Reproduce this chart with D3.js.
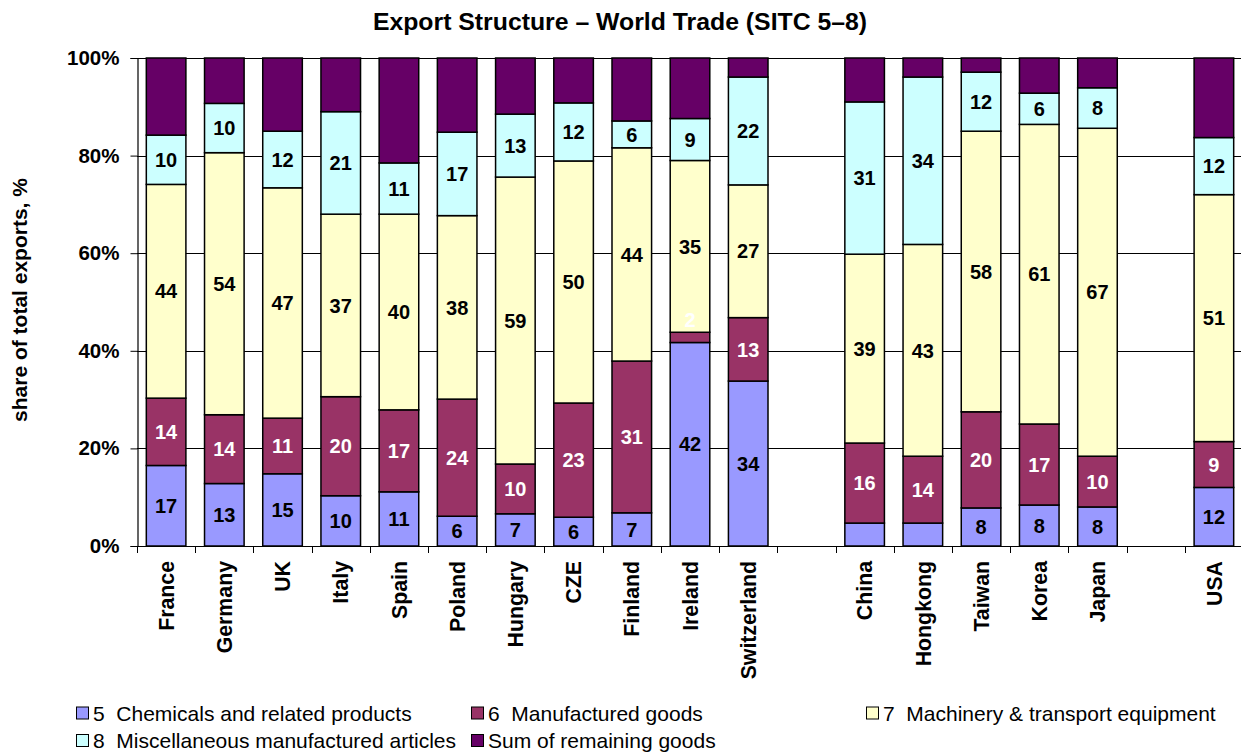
<!DOCTYPE html>
<html><head><meta charset="utf-8">
<script src="https://cdn.jsdelivr.net/npm/d3@7"></script>
<style>body{margin:0;background:#fff}svg{display:block}</style>
</head><body>
<svg id="c" width="1241" height="753"></svg>
<script>
const slots = ["France","Germany","UK","Italy","Spain","Poland","Hungary","CZE","Finland","Ireland","Switzerland","gap1","China","Hongkong","Taiwan","Korea","Japan","gap2","USA"];
const categories = ["France","Germany","UK","Italy","Spain","Poland","Hungary","CZE","Finland","Ireland","Switzerland","China","Hongkong","Taiwan","Korea","Japan","USA"];
const chemicals    = [16.5,12.8,14.8,10.3,11.1, 6.1, 6.6, 5.9, 6.8,41.7,33.8, 4.7, 4.7, 7.8, 8.4, 8.0,12.0];
const manufactured = [13.8,14.1,11.4,20.3,16.8,24.0,10.2,23.4,31.1, 2.1,13.0,16.4,13.7,19.7,16.6,10.4, 9.4];
const machinery    = [43.8,53.7,47.2,37.4,40.1,37.6,58.8,49.6,43.7,35.2,27.2,38.7,43.4,57.5,61.4,67.2,50.6];
const misc         = [10.1,10.1,11.6,21.0,10.5,17.1,12.9,11.9, 5.5, 8.6,22.1,31.2,34.3,12.1, 6.4, 8.3,11.7];
const remaining    = [15.8, 9.3,15.0,11.0,21.5,15.2,11.5, 9.2,12.9,12.4, 3.9, 9.0, 3.9, 2.9, 7.2, 6.1,16.3];
const seriesNames = ["5  Chemicals and related products","6  Manufactured goods","7  Machinery & transport equipment","8  Miscellaneous manufactured articles","Sum of remaining goods"];
const seriesColors = ["#9999FF","#993366","#FFFFCC","#CCFFFF","#660066"];
const labelColors = ["#000","#fff","#000","#000",null];
const hiddenLabels = ["China|0","Hongkong|0"];
const yTicks = [0,20,40,60,80,100];
const chartTitle = "Export Structure \u2013 World Trade (SITC 5\u20138)";
const yTitle = "share of total exports, %";

(function(){
const seriesData = [chemicals, manufactured, machinery, misc, remaining];
const svg = d3.select("#c");
const font = "'Liberation Sans', Arial, sans-serif";
const pL = 137, pR = 1243, pT = 58, pB = 546;

const x = d3.scaleBand().domain(slots).range([pL, pR]).paddingInner(0.32).paddingOuter(0.16);
const y = d3.scaleLinear().domain([0,100]).range([pB, pT]);
const step = x.step();

svg.append("g").selectAll("line").data(yTicks.filter(d=>d>0)).join("line")
  .attr("x1", pL).attr("x2", 1241).attr("y1", d=>Math.round(y(d))+0.5).attr("y2", d=>Math.round(y(d))+0.5)
  .attr("stroke", "#000").attr("stroke-width", 1);

const rows = categories.map((c,i)=>{
  const o = {cat:c}; seriesData.forEach((s,k)=>o["s"+k]=s[i]); return o;});
const stack = d3.stack().keys([0,1,2,3,4].map(k=>"s"+k))(rows);

const g = svg.append("g");
stack.forEach((layer,k)=>{
  g.append("g").selectAll("rect").data(layer).join("rect")
    .attr("x", d=>x(d.data.cat)).attr("width", x.bandwidth())
    .attr("y", d=>y(d[1])).attr("height", d=>y(d[0])-y(d[1]))
    .attr("fill", seriesColors[k]).attr("stroke", "#000").attr("stroke-width", 1.5);
});
stack.forEach((layer,k)=>{
  if(!labelColors[k]) return;
  g.append("g").selectAll("text").data(layer.filter(d=>!hiddenLabels.includes(d.data.cat+"|"+k))).join("text")
    .attr("x", d=>x(d.data.cat)+x.bandwidth()/2)
    .attr("y", d=>{const h=y(d[0])-y(d[1]); return h<14 ? y(d[1])-12 : (y(d[0])+y(d[1]))/2;})
    .attr("dy","0.36em").attr("text-anchor","middle")
    .attr("font-family", font).attr("font-weight","bold").attr("font-size", 20)
    .attr("fill", labelColors[k]).text(d=>Math.round(d[1]-d[0]));
});

const ya = svg.append("g").attr("transform",`translate(${pL+0.5},0)`)
  .call(d3.axisLeft(y).tickValues(yTicks).tickFormat(d=>d+"%").tickSize(7).tickPadding(11));
ya.select(".domain").attr("stroke","#000").attr("stroke-width",1.2);
ya.selectAll("text").attr("font-family",font).attr("font-weight","bold").attr("font-size",20.5).attr("fill","#000");
ya.selectAll("line").attr("stroke","#000");

svg.append("line").attr("x1",pL).attr("x2",1241).attr("y1",pB+0.5).attr("y2",pB+0.5).attr("stroke","#000").attr("stroke-width",1.2);
svg.append("g").selectAll("line").data(slots).join("line")
  .attr("x1", d=>Math.round(x(d) - step*0.16)+0.5)
  .attr("x2", d=>Math.round(x(d) - step*0.16)+0.5)
  .attr("y1", pB).attr("y2", pB+7).attr("stroke","#000");
svg.append("g").selectAll("text").data(categories).join("text")
  .attr("transform", d=>`translate(${x(d)+x.bandwidth()/2},561) rotate(-90)`)
  .attr("dy","0.36em").attr("text-anchor","end")
  .attr("font-family",font).attr("font-weight","bold").attr("font-size",21.3).attr("fill","#000").text(d=>d);

svg.append("text").attr("x",620).attr("y",30).attr("text-anchor","middle")
  .attr("font-family",font).attr("font-weight","bold").attr("font-size",24.8).text(chartTitle);
svg.append("text").attr("transform","translate(27,300) rotate(-90)").attr("text-anchor","middle")
  .attr("font-family",font).attr("font-weight","bold").attr("font-size",21).text(yTitle);

const legPos = [[76,720.5],[471,720.5],[866,720.5],[76,748],[471,748]];
const lg = svg.append("g");
seriesNames.forEach((n,k)=>{
  const [lx,ly] = legPos[k];
  lg.append("rect").attr("x",lx+0.5).attr("y",ly-13.5).attr("width",12).attr("height",12)
    .attr("fill",seriesColors[k]).attr("stroke","#000").attr("stroke-width",1);
  lg.append("text").attr("x",lx+17).attr("y",ly)
    .attr("font-family",font).attr("font-size",21).style("white-space","pre").text(n);
});
})();
</script>
</body></html>
